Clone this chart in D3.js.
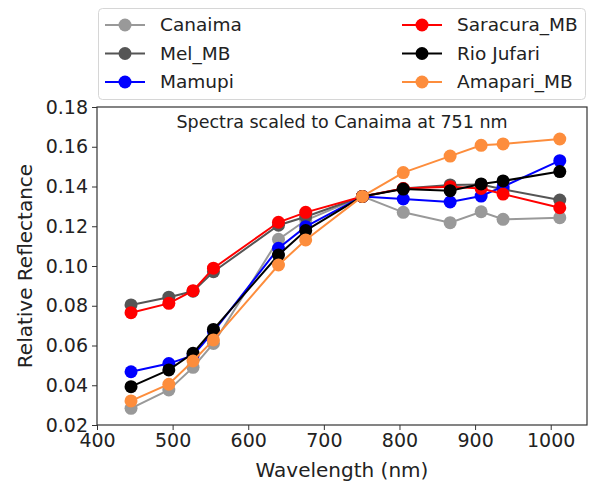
<!DOCTYPE html>
<html>
<head>
<meta charset="utf-8">
<script src="https://cdn.jsdelivr.net/npm/d3@7"></script>
<style>
  body { margin: 0; background: #fff; }
  text { font-family: "DejaVu Sans", sans-serif; fill: #222; }
</style>
</head>
<body>
<div id="chart"></div>
<script>
// Data
var wavelengths = [445, 495, 527, 554, 640, 676, 751, 805, 867, 908, 937, 1012];
var seriesNames = ["Canaima", "Mel_MB", "Mamupi", "Saracura_MB", "Rio Jufari", "Amapari_MB"];
var canaima    = [0.0284, 0.0376, 0.0490, 0.0610, 0.1134, 0.1230, 0.135, 0.1270, 0.1218, 0.1273, 0.1235, 0.1243];
var melMB      = [0.0804, 0.0843, 0.0873, 0.0971, 0.1205, 0.1248, 0.135, 0.1390, 0.1408, 0.1410, 0.1386, 0.1332];
var mamupi     = [0.0468, 0.0509, 0.0550, 0.0670, 0.1089, 0.1198, 0.135, 0.1337, 0.1322, 0.1352, 0.1399, 0.1530];
var saracuraMB = [0.0765, 0.0812, 0.0876, 0.0989, 0.1220, 0.1270, 0.135, 0.1390, 0.1399, 0.1390, 0.1362, 0.1293];
var rioJufari  = [0.0393, 0.0477, 0.0561, 0.0681, 0.1055, 0.1178, 0.135, 0.1387, 0.1379, 0.1413, 0.1428, 0.1475];
var amapariMB  = [0.0321, 0.0405, 0.0522, 0.0628, 0.1005, 0.1131, 0.135, 0.1470, 0.1553, 0.1607, 0.1614, 0.1639];
var xTicks = [400, 500, 600, 700, 800, 900, 1000];
var yTicks = [0.02, 0.04, 0.06, 0.08, 0.10, 0.12, 0.14, 0.16, 0.18];

var seriesValues = [canaima, melMB, mamupi, saracuraMB, rioJufari, amapariMB];
var colors = ["#999999", "#555555", "#0000ff", "#ff0000", "#000000", "#fd8d3c"];

// Chart Params
var svgWidth = 591;
var svgHeight = 484;
var margin = { top: 107, right: 4, bottom: 59, left: 97 };
var width = svgWidth - margin.left - margin.right;
var height = svgHeight - margin.top - margin.bottom;

var svg = d3.select("#chart")
    .append("svg")
    .attr("width", svgWidth)
    .attr("height", svgHeight);

var chartGroup = svg.append("g")
    .attr("transform", `translate(${margin.left}, ${margin.top})`);

var x = d3.scaleLinear().domain([400, 1048]).range([0, width]);
var y = d3.scaleLinear().domain([0.02, 0.18]).range([height, 0]);

// axes
var bottomAxis = d3.axisBottom(x).tickValues(xTicks).tickSize(5).tickPadding(4).tickFormat(d3.format("d"));
var leftAxis = d3.axisLeft(y).tickValues(yTicks).tickSize(5).tickPadding(4).tickFormat(d3.format(".2f"));

var xAxis = chartGroup.append("g")
    .attr("transform", `translate(0, ${height})`)
    .call(bottomAxis);
var yAxis = chartGroup.append("g").call(leftAxis);

[xAxis, yAxis].forEach(function(a) {
    a.select(".domain").remove();
    a.selectAll("line").attr("stroke", "#333");
    a.selectAll("text").style("font-size", "19px").attr("fill", "#222");
});

// frame
chartGroup.append("rect")
    .attr("width", width)
    .attr("height", height)
    .attr("fill", "none")
    .attr("stroke", "#333")
    .attr("stroke-width", 1.2);

// lines and markers
var line = d3.line()
    .x((d, i) => x(wavelengths[i]))
    .y(d => y(d));

seriesValues.forEach(function(vals, k) {
    var g = chartGroup.append("g");
    g.append("path")
        .datum(vals)
        .attr("d", line)
        .attr("fill", "none")
        .attr("stroke", colors[k])
        .attr("stroke-width", 2);
    g.selectAll("circle")
        .data(vals)
        .enter()
        .append("circle")
        .attr("cx", (d, i) => x(wavelengths[i]))
        .attr("cy", d => y(d))
        .attr("r", 6.5)
        .attr("fill", colors[k]);
});

// title inside axes
chartGroup.append("text")
    .attr("x", width / 2)
    .attr("y", 15)
    .attr("dy", "0.35em")
    .attr("text-anchor", "middle")
    .style("font-size", "17.5px")
    .text("Spectra scaled to Canaima at 751 nm");

// axis labels
svg.append("text")
    .attr("x", margin.left + width / 2)
    .attr("y", 470)
    .attr("dy", "0.35em")
    .attr("text-anchor", "middle")
    .style("font-size", "20px")
    .text("Wavelength (nm)");

svg.append("text")
    .attr("transform", `translate(25, ${margin.top + height / 2}) rotate(-90)`)
    .attr("dy", "0.35em")
    .attr("text-anchor", "middle")
    .style("font-size", "20px")
    .text("Relative Reflectance");

// legend
var legend = svg.append("g");
legend.append("rect")
    .attr("x", 98.5)
    .attr("y", 8.5)
    .attr("width", 487)
    .attr("height", 91)
    .attr("rx", 4)
    .attr("fill", "#fff")
    .attr("fill-opacity", 0.8)
    .attr("stroke", "#d6d6d6");

seriesNames.forEach(function(name, k) {
    var col = Math.floor(k / 3);
    var row = k % 3;
    var lx = col === 0 ? 105 : 402;
    var ly = 25 + row * 28.5;
    legend.append("line")
        .attr("x1", lx).attr("x2", lx + 40)
        .attr("y1", ly).attr("y2", ly)
        .attr("stroke", colors[k])
        .attr("stroke-width", 2);
    legend.append("circle")
        .attr("cx", lx + 20).attr("cy", ly)
        .attr("r", 6.5)
        .attr("fill", colors[k]);
    legend.append("text")
        .attr("x", lx + 55)
        .attr("y", ly)
        .attr("dy", "0.35em")
        .style("font-size", "18.5px")
        .text(name);
});
</script>
</body>
</html>
